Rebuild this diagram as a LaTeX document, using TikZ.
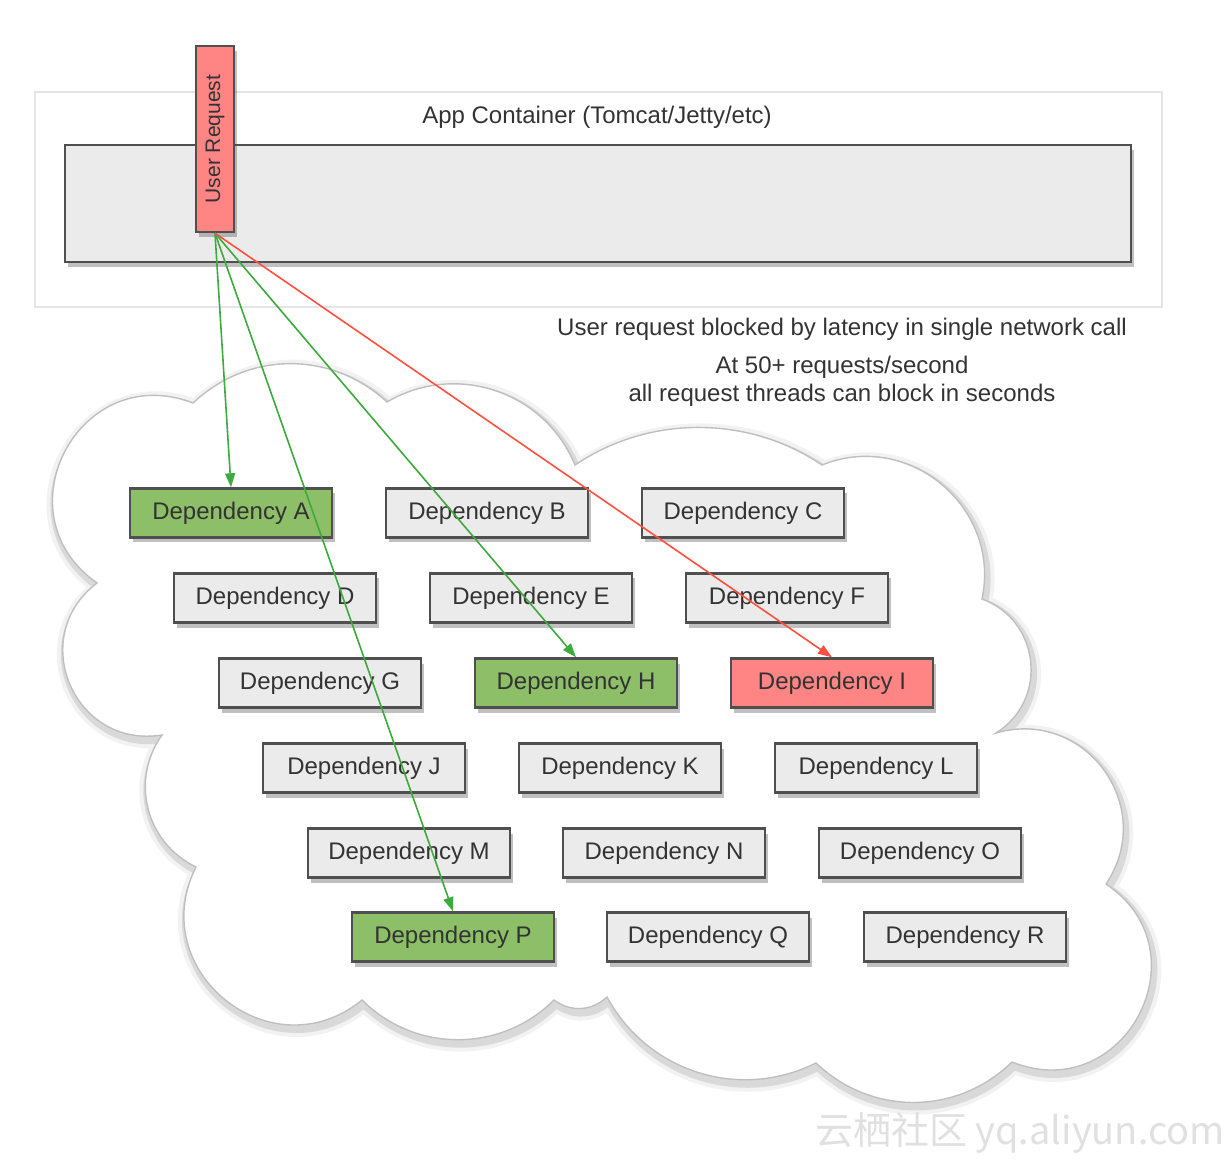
\documentclass[tikz,border=0pt]{standalone}
\usepackage{fontspec}
\setmainfont{Liberation Sans}
\newfontfamily\cjk{Noto Sans CJK SC}
\usepackage{tikz}
\usetikzlibrary{arrows.meta, shadows}
\definecolor{boxgray}{HTML}{EBEBEB}
\definecolor{edgegray}{HTML}{4F4F4F}
\definecolor{okgreen}{HTML}{8DBE68}
\definecolor{badred}{HTML}{FF8585}
\definecolor{linegreen}{HTML}{3DAA3D}
\definecolor{linered}{HTML}{FF5040}
\definecolor{textgray}{HTML}{333333}
\tikzset{%
	every dependency/.style={
		rectangle,
		draw=edgegray,
		line width=1.2pt,
		fill=boxgray,
		minimum width=101pt,
		minimum height=24.5pt,
		text=textgray,
		font=\fontsize{12}{14}\selectfont,
		drop shadow={shadow xshift=1.5pt, shadow yshift=-2.5pt, opacity=0.35, fill=black!70}
	},
	dependency ok/.style={every dependency, fill=okgreen},
	dependency bad/.style={every dependency, fill=badred},
}

\begin{document}
\begin{tikzpicture}[x=0.5pt, y=0.5pt]
	\tikzstyle{call ok}=[draw=linegreen, line width=0.8pt, -{Triangle[length=7pt,width=5pt]}]
	\tikzstyle{call bad}=[draw=linered, line width=0.8pt, -{Triangle[length=7pt,width=5pt]}]
	\tikzstyle{note}=[text=textgray, font=\fontsize{12}{14}\selectfont]
	\useasboundingbox (0,0) rectangle (1232,1164);
	
	% app container
	\draw[draw=black!10, line width=0.6pt] (35,857) rectangle (1162,1072);
	\node[note] (title) at (597,1047) {App Container (Tomcat/Jetty/etc)};
	\draw[draw=edgegray, fill=boxgray, line width=1.2pt,
		drop shadow={shadow xshift=1.5pt, shadow yshift=-2.5pt, opacity=0.35, fill=black!70}]
		(65,902) rectangle (1131,1019);
	\node[draw=edgegray, fill=badred, line width=1.2pt, rotate=90,
		minimum width=93pt, minimum height=19pt, inner sep=0pt,
		text=textgray, font=\fontsize{10.5}{12}\selectfont,
		drop shadow={shadow xshift=1.5pt, shadow yshift=-2.5pt, opacity=0.35, fill=black!70}]
		(request) at (215,1025) {User Request};
	
	% cloud of dependencies
	\draw[draw=black!25, line width=0.7pt, fill=white,
		preaction={draw=black, opacity=0.05, line width=8pt, transform canvas={shift={(1pt,-2pt)}}},
		preaction={draw=black, opacity=0.10, line width=4pt, transform canvas={shift={(1pt,-2pt)}}}]
		(193,761) to[bend left=43] (387,762)
		to[bend left=49, looseness=1.03] (575,699)
		to[bend left=34, looseness=0.93] (822,699)
		to[bend left=62, looseness=1.15] (982,565)
		to[bend left=64, looseness=1.18] (996,431)
		to[bend left=70, looseness=1.27] (1106,280)
		to[bend left=84, looseness=1.54] (1012,102)
		to[bend left=44] (816,101)
		to[bend left=44] (607,167)
		to[bend left=40] (554,164)
		to[bend left=45] (362,164)
		to[bend left=78, looseness=1.4] (196,297)
		to[bend left=50, looseness=1.04] (162,429)
		to[bend left=76, looseness=1.38] (97,581)
		to[bend left=83, looseness=1.52] (193,761) -- cycle;
	
	\node[dependency ok] (depA) at (231,651) {Dependency A};
	\node[every dependency] (depB) at (487,651) {Dependency B};
	\node[every dependency] (depC) at (743,651) {Dependency C};
	
	\node[every dependency] (depD) at (275,566) {Dependency D};
	\node[every dependency] (depE) at (531,566) {Dependency E};
	\node[every dependency] (depF) at (787,566) {Dependency F};
	
	\node[every dependency] (depG) at (320,481) {Dependency G};
	\node[dependency ok] (depH) at (576,481) {Dependency H};
	\node[dependency bad] (depI) at (832,481) {Dependency I};
	
	\node[every dependency] (depJ) at (364,396) {Dependency J};
	\node[every dependency] (depK) at (620,396) {Dependency K};
	\node[every dependency] (depL) at (876,396) {Dependency L};
	
	\node[every dependency] (depM) at (409,311) {Dependency M};
	\node[every dependency] (depN) at (664,311) {Dependency N};
	\node[every dependency] (depO) at (920,311) {Dependency O};
	
	\node[dependency ok] (depP) at (453,227) {Dependency P};
	\node[every dependency] (depQ) at (708,227) {Dependency Q};
	\node[every dependency] (depR) at (965,227) {Dependency R};
	
	% calls from the request
	\draw[call ok] (request.west) -- (depA.north);
	\draw[call ok] (request.west) -- (depP.north);
	\draw[call ok] (request.west) -- (depH.north);
	\draw[call bad] (request.west) -- (depI.north);
	
	\node[note] (blocked) at (842,835) {User request blocked by latency in single network call};
	\node[note, align=center] (rate) at (842,783) {At 50+ requests/second\\all request threads can block in seconds};
	
	\node[text=black!12, font=\cjk\fontsize{19}{20}\selectfont] (mark) at (1020,31) {云栖社区 yq.aliyun.com};
\end{tikzpicture}
\end{document}
